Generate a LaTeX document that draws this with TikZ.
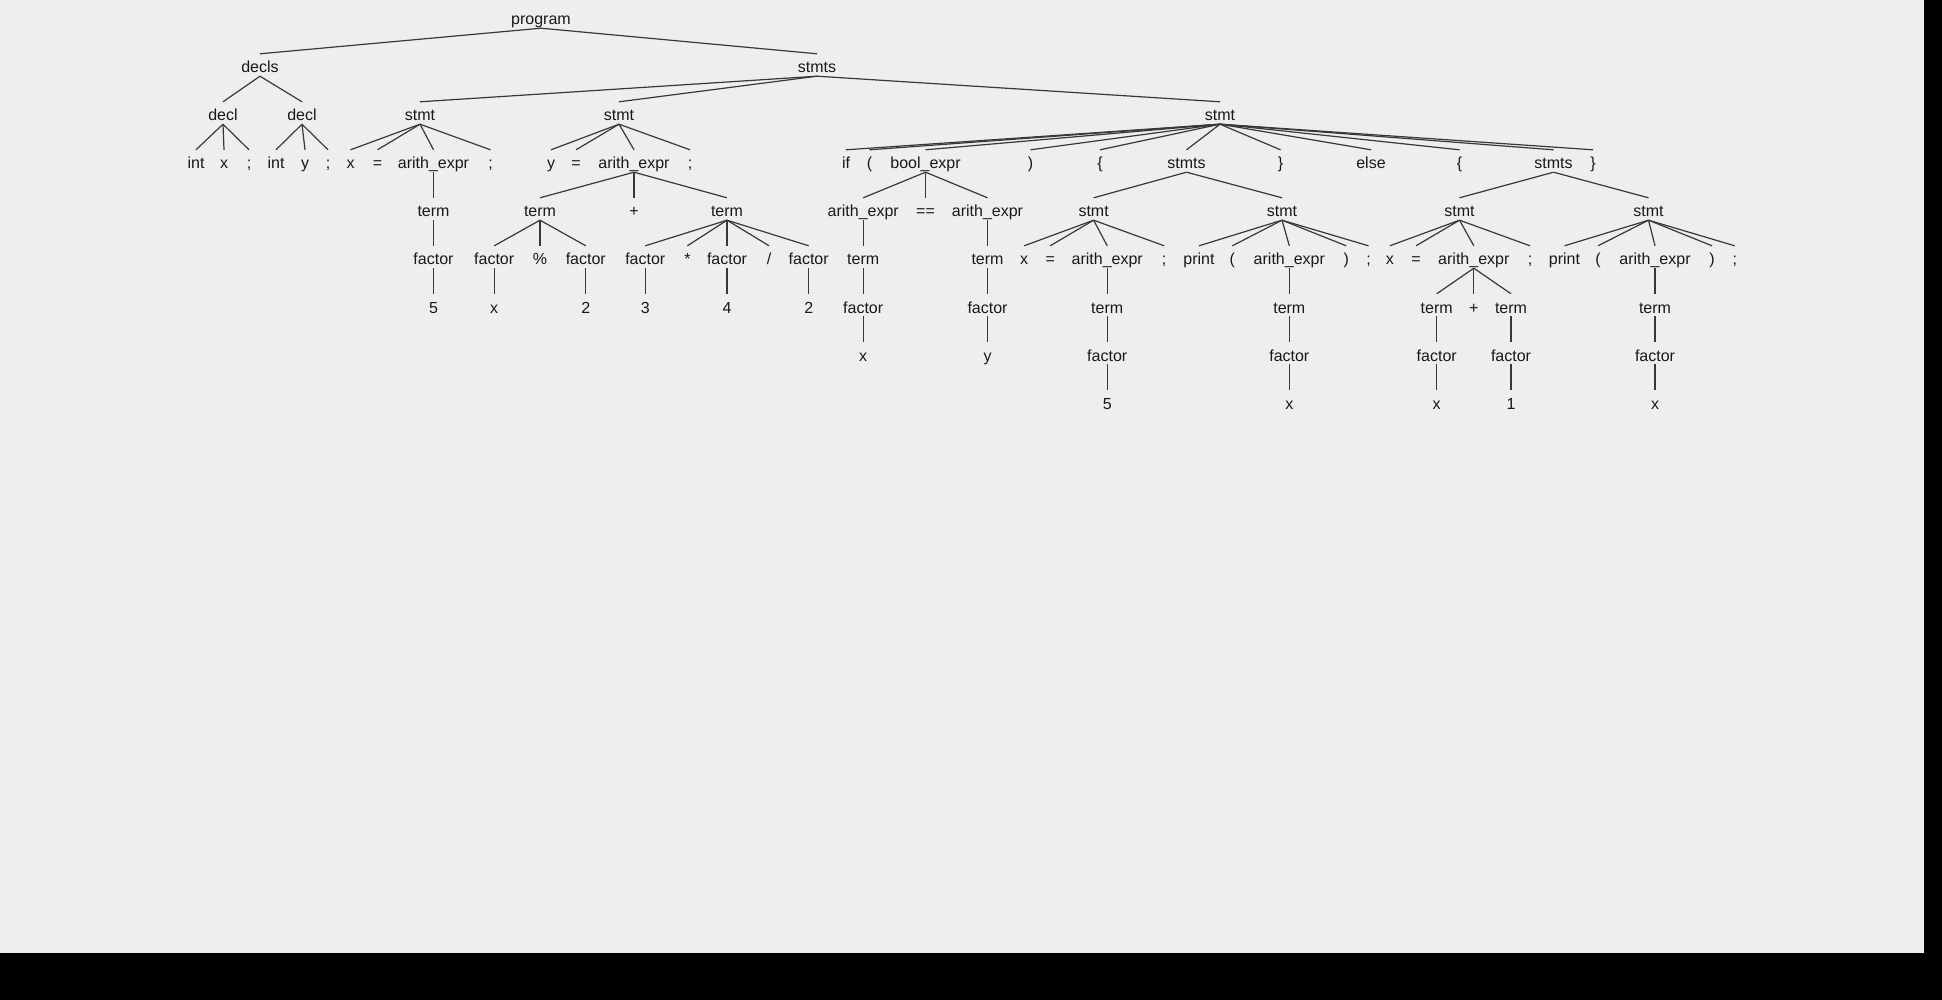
\documentclass[tikz,border=0pt]{standalone}
\usepackage{fontspec}
\setmainfont{Liberation Sans}
\definecolor{bgc}{HTML}{EEEEEE}
\definecolor{edgec}{HTML}{383838}
\tikzset{lbl/.style={anchor=base,inner sep=0pt,text height=19pt,text depth=3pt,text=black!90,font=\fontsize{16}{19}\selectfont},
  edge/.style={edgec,line width=1.2pt}}

\begin{document}
\begin{tikzpicture}[x=1pt,y=-1pt]
\fill [black] (0,0) rectangle (1942,1000);
\fill [bgc] (0,0) rectangle (1924,953);
\node[lbl] (prog) at (541,25) {program};
\node[lbl] (decls) at (260,73) {decls};
\node[lbl] (stmts) at (817,73) {stmts};
\node[lbl] (decl1) at (223,121) {decl};
\node[lbl] (decl2) at (302,121) {decl};
\node[lbl] (st1) at (420,121) {stmt};
\node[lbl] (st2) at (619,121) {stmt};
\node[lbl] (st3) at (1220,121) {stmt};
\node[lbl] (d1a) at (196,169) {int};
\node[lbl] (d1b) at (224,169) {x};
\node[lbl] (d1c) at (249,169) {;};
\node[lbl] (d2a) at (276,169) {int};
\node[lbl] (d2b) at (305,169) {y};
\node[lbl] (d2c) at (328,169) {;};
\node[lbl] (s1a) at (350.5,169) {x};
\node[lbl] (s1b) at (377.5,169) {=};
\node[lbl] (ae1) at (433.5,169) {arith\_expr};
\node[lbl] (s1d) at (490.5,169) {;};
\node[lbl] (s2a) at (551,169) {y};
\node[lbl] (s2b) at (576,169) {=};
\node[lbl] (ae2) at (634,169) {arith\_expr};
\node[lbl] (s2d) at (690,169) {;};
\node[lbl] (ifk) at (846,169) {if};
\node[lbl] (lp1) at (869.5,169) {(};
\node[lbl] (bexp) at (925.5,169) {bool\_expr};
\node[lbl] (rp1) at (1030.5,169) {)};
\node[lbl] (lb1) at (1100,169) {\{};
\node[lbl] (sts1) at (1186.5,169) {stmts};
\node[lbl] (rb1) at (1280.5,169) {\}};
\node[lbl] (elsek) at (1371,169) {else};
\node[lbl] (lb2) at (1459.5,169) {\{};
\node[lbl] (sts2) at (1553.5,169) {stmts};
\node[lbl] (rb2) at (1593,169) {\}};
\node[lbl] (tm1) at (433.5,217) {term};
\node[lbl] (tm2) at (540,217) {term};
\node[lbl] (plus1) at (634,217) {+};
\node[lbl] (tm3) at (727,217) {term};
\node[lbl] (ae3) at (863.2,217) {arith\_expr};
\node[lbl] (eqeq) at (925.5,217) {==};
\node[lbl] (ae4) at (987.5,217) {arith\_expr};
\node[lbl] (st4) at (1093.6,217) {stmt};
\node[lbl] (st5) at (1282,217) {stmt};
\node[lbl] (st6) at (1459.5,217) {stmt};
\node[lbl] (st7) at (1648.5,217) {stmt};
\node[lbl] (fc1) at (433.5,265) {factor};
\node[lbl] (fc2) at (494.2,265) {factor};
\node[lbl] (pct) at (540,265) {\%};
\node[lbl] (fc3) at (585.8,265) {factor};
\node[lbl] (fc4) at (645.3,265) {factor};
\node[lbl] (mul) at (687.4,265) {*};
\node[lbl] (fc5) at (727,265) {factor};
\node[lbl] (dv) at (769.1,265) {/};
\node[lbl] (fc6) at (808.7,265) {factor};
\node[lbl] (tm4) at (863.2,265) {term};
\node[lbl] (tm5) at (987.5,265) {term};
\node[lbl] (s4a) at (1024.2,265) {x};
\node[lbl] (s4b) at (1050.2,265) {=};
\node[lbl] (ae5) at (1107.2,265) {arith\_expr};
\node[lbl] (s4d) at (1164.2,265) {;};
\node[lbl] (s5a) at (1199,265) {print};
\node[lbl] (s5b) at (1232.3,265) {(};
\node[lbl] (ae6) at (1289.3,265) {arith\_expr};
\node[lbl] (s5d) at (1346.2,265) {)};
\node[lbl] (s5e) at (1368.5,265) {;};
\node[lbl] (s6a) at (1389.8,265) {x};
\node[lbl] (s6b) at (1416,265) {=};
\node[lbl] (ae7) at (1473.8,265) {arith\_expr};
\node[lbl] (s6d) at (1530,265) {;};
\node[lbl] (s7a) at (1564.5,265) {print};
\node[lbl] (s7b) at (1598,265) {(};
\node[lbl] (ae8) at (1655,265) {arith\_expr};
\node[lbl] (s7d) at (1712,265) {)};
\node[lbl] (s7e) at (1734.7,265) {;};
\node[lbl] (n5a) at (433.5,313) {5};
\node[lbl] (vx1) at (494.2,313) {x};
\node[lbl] (n2a) at (585.8,313) {2};
\node[lbl] (n3) at (645.3,313) {3};
\node[lbl] (n4) at (727,313) {4};
\node[lbl] (n2b) at (808.7,313) {2};
\node[lbl] (fc7) at (863.2,313) {factor};
\node[lbl] (fc8) at (987.5,313) {factor};
\node[lbl] (tm6) at (1107.2,313) {term};
\node[lbl] (tm7) at (1289.3,313) {term};
\node[lbl] (tm8) at (1436.7,313) {term};
\node[lbl] (plus2) at (1473.8,313) {+};
\node[lbl] (tm9) at (1511,313) {term};
\node[lbl] (tm10) at (1655,313) {term};
\node[lbl] (vx2) at (863.2,361) {x};
\node[lbl] (vy) at (987.5,361) {y};
\node[lbl] (fc9) at (1107.2,361) {factor};
\node[lbl] (fc10) at (1289.3,361) {factor};
\node[lbl] (fc11) at (1436.7,361) {factor};
\node[lbl] (fc12) at (1511,361) {factor};
\node[lbl] (fc13) at (1655,361) {factor};
\node[lbl] (n5b) at (1107.2,409) {5};
\node[lbl] (vx3) at (1289.3,409) {x};
\node[lbl] (vx4) at (1436.7,409) {x};
\node[lbl] (n1) at (1511,409) {1};
\node[lbl] (vx5) at (1655,409) {x};
\foreach \p/\c in {prog/decls,prog/stmts,decls/decl1,decls/decl2,
  decl1/d1a,decl1/d1b,decl1/d1c,decl2/d2a,decl2/d2b,decl2/d2c,
  stmts/st1,stmts/st2,stmts/st3,
  st1/s1a,st1/s1b,st1/ae1,st1/s1d,ae1/tm1,tm1/fc1,fc1/n5a,
  st2/s2a,st2/s2b,st2/ae2,st2/s2d,ae2/tm2,ae2/plus1,ae2/tm3,
  tm2/fc2,tm2/pct,tm2/fc3,fc2/vx1,fc3/n2a,
  tm3/fc4,tm3/mul,tm3/fc5,tm3/dv,tm3/fc6,fc4/n3,fc5/n4,fc6/n2b,
  st3/ifk,st3/lp1,st3/bexp,st3/rp1,st3/lb1,st3/sts1,st3/rb1,st3/elsek,st3/lb2,st3/sts2,st3/rb2,
  bexp/ae3,bexp/eqeq,bexp/ae4,ae3/tm4,tm4/fc7,fc7/vx2,ae4/tm5,tm5/fc8,fc8/vy,
  sts1/st4,sts1/st5,
  st4/s4a,st4/s4b,st4/ae5,st4/s4d,ae5/tm6,tm6/fc9,fc9/n5b,
  st5/s5a,st5/s5b,st5/ae6,st5/s5d,st5/s5e,ae6/tm7,tm7/fc10,fc10/vx3,
  sts2/st6,sts2/st7,
  st6/s6a,st6/s6b,st6/ae7,st6/s6d,ae7/tm8,ae7/plus2,ae7/tm9,tm8/fc11,fc11/vx4,tm9/fc12,fc12/n1,
  st7/s7a,st7/s7b,st7/ae8,st7/s7d,st7/s7e,ae8/tm10,tm10/fc13,fc13/vx5}
  \draw [edge] (\p.south) -- (\c.north);
\end{tikzpicture}
\end{document}
